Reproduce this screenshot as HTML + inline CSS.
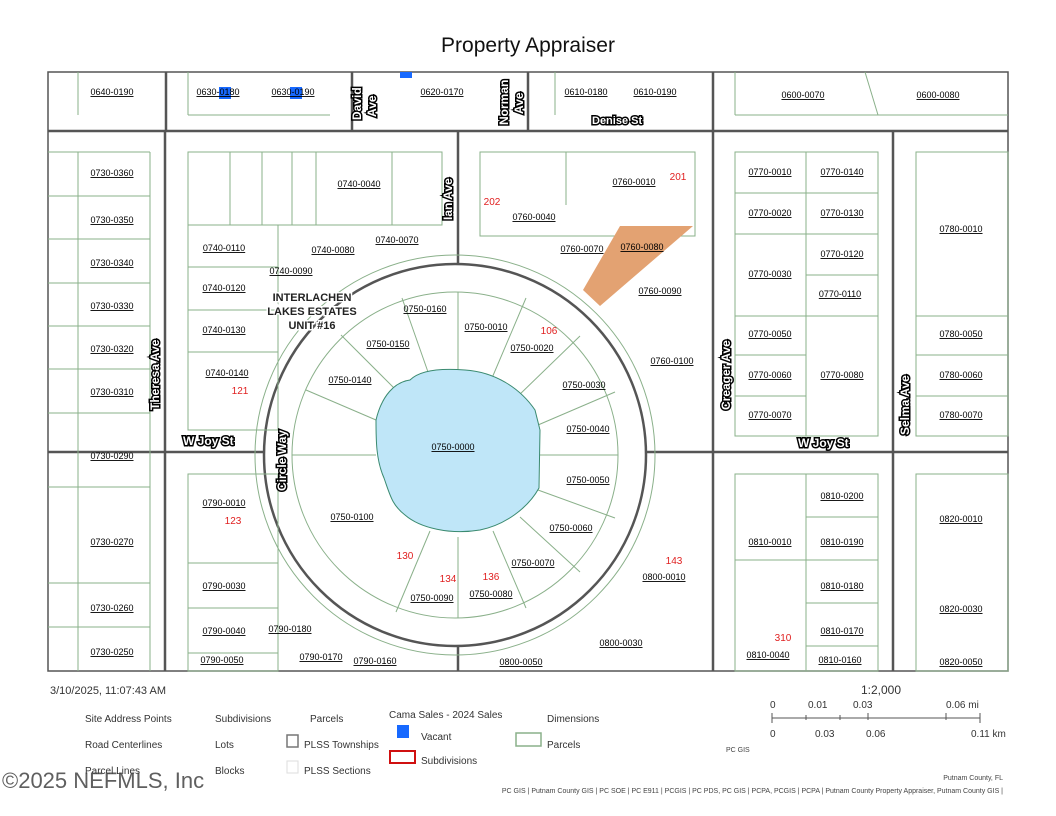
<!DOCTYPE html>
<html><head><meta charset="utf-8"><style>
body{margin:0;background:#fff;width:1056px;height:816px;overflow:hidden;font-family:"Liberation Sans",sans-serif}
svg{position:absolute;left:0;top:0}
.l{font-size:9px;text-decoration:underline;fill:#000;text-anchor:middle}
.r{font-size:10px;fill:#e02020;text-anchor:middle}
.s{font-size:12px;font-weight:bold;fill:#fff;stroke:#000;stroke-width:3;paint-order:stroke;}
.g{stroke:#8ab08a;stroke-width:1;fill:none}
.d{stroke:#555;stroke-width:2.5;fill:none}
.t{font-size:10px;fill:#333}
</style></head><body>
<svg width="1056" height="816">
<text x="528" y="52" font-size="21" text-anchor="middle" fill="#111">Property Appraiser</text>
<rect x="48" y="72" width="960" height="599" fill="#fff" stroke="#555" stroke-width="1.5"/>
<g class="d">
<line x1="48" y1="131" x2="1008" y2="131"/>
<line x1="48" y1="452" x2="264" y2="452"/><line x1="645" y1="452" x2="1008" y2="452"/>
<line x1="165" y1="131" x2="165" y2="671"/><line x1="713" y1="131" x2="713" y2="671"/>
<line x1="893" y1="131" x2="893" y2="671"/>
<line x1="166" y1="72" x2="166" y2="131"/><line x1="352" y1="72" x2="352" y2="131"/>
<line x1="528" y1="72" x2="528" y2="131"/><line x1="713" y1="72" x2="713" y2="131"/>
<line x1="458" y1="131" x2="458" y2="263"/><line x1="458" y1="645" x2="458" y2="671"/>
<circle cx="455" cy="455" r="191"/>
</g>
<g class="g">
<circle cx="455" cy="455" r="163"/><circle cx="455" cy="455" r="200"/>
<rect x="188" y="152" width="254" height="73"/><rect x="480" y="152" width="215" height="84"/>
<rect x="188" y="225" width="90" height="127"/><line x1="188" y1="267" x2="278" y2="267"/><line x1="188" y1="310" x2="278" y2="310"/>
<rect x="188" y="352" width="90" height="78"/>
<line x1="230" y1="152" x2="230" y2="225"/><line x1="262" y1="152" x2="262" y2="225"/><line x1="292" y1="152" x2="292" y2="225"/><line x1="316" y1="152" x2="316" y2="225"/><line x1="392" y1="152" x2="392" y2="225"/>
<line x1="566" y1="152" x2="566" y2="205"/>
<rect x="188" y="474" width="90" height="197"/><line x1="188" y1="563" x2="278" y2="563"/><line x1="188" y1="608" x2="278" y2="608"/><line x1="188" y1="653" x2="278" y2="653"/>
<rect x="735" y="152" width="143" height="284"/><line x1="806" y1="152" x2="806" y2="436"/>
<line x1="735" y1="193" x2="878" y2="193"/><line x1="735" y1="234" x2="878" y2="234"/><line x1="806" y1="275" x2="878" y2="275"/><line x1="735" y1="316" x2="878" y2="316"/><line x1="735" y1="355" x2="806" y2="355"/><line x1="735" y1="396" x2="806" y2="396"/>
<rect x="916" y="152" width="92" height="284"/><line x1="916" y1="316" x2="1008" y2="316"/><line x1="916" y1="355" x2="1008" y2="355"/><line x1="916" y1="396" x2="1008" y2="396"/>
<rect x="735" y="474" width="143" height="197"/><line x1="806" y1="474" x2="806" y2="671"/>
<line x1="806" y1="517" x2="878" y2="517"/><line x1="806" y1="560" x2="878" y2="560"/><line x1="806" y1="603" x2="878" y2="603"/><line x1="806" y1="646" x2="878" y2="646"/><line x1="735" y1="560" x2="806" y2="560"/>
<rect x="916" y="474" width="92" height="197"/>
<line x1="48" y1="152" x2="150" y2="152"/><line x1="78" y1="152" x2="78" y2="671"/>
<line x1="48" y1="196" x2="150" y2="196"/><line x1="48" y1="239" x2="150" y2="239"/><line x1="48" y1="283" x2="150" y2="283"/><line x1="48" y1="326" x2="150" y2="326"/><line x1="48" y1="369" x2="150" y2="369"/><line x1="48" y1="413" x2="150" y2="413"/><line x1="48" y1="487" x2="150" y2="487"/><line x1="48" y1="583" x2="150" y2="583"/><line x1="48" y1="627" x2="150" y2="627"/><line x1="150" y1="152" x2="150" y2="671"/>
<line x1="78" y1="72" x2="78" y2="115"/><line x1="188" y1="72" x2="188" y2="115"/><line x1="188" y1="115" x2="330" y2="115"/>
<line x1="555" y1="72" x2="555" y2="115"/><line x1="735" y1="72" x2="735" y2="115"/><line x1="735" y1="115" x2="1008" y2="115"/><line x1="865" y1="72" x2="878" y2="115"/>
<line x1="458" y1="292" x2="458" y2="370"/><line x1="458" y1="537" x2="458" y2="618"/>
<line x1="292" y1="455" x2="376" y2="455"/><line x1="538" y1="455" x2="618" y2="455"/>
<line x1="341" y1="335" x2="396" y2="390"/><line x1="526" y1="298" x2="492" y2="378"/><line x1="580" y1="336" x2="516" y2="398"/>
<line x1="306" y1="390" x2="376" y2="420"/><line x1="615" y1="392" x2="538" y2="425"/><line x1="615" y1="518" x2="538" y2="490"/>
<line x1="580" y1="572" x2="520" y2="517"/><line x1="526" y1="608" x2="493" y2="531"/><line x1="396" y1="612" x2="430" y2="531"/><line x1="402" y1="298" x2="428" y2="372"/>
</g>
<path d="M376 420 C382 395 395 382 410 380 C420 370 440 368 465 370 C495 372 520 388 535 410 L540 430 L539 488 C528 508 505 525 480 530 C450 535 420 528 405 515 C392 505 390 495 384 478 C376 460 376 440 376 420 Z" fill="#bfe6f8" stroke="#3a8a70" stroke-width="1"/>
<polygon points="583,290 620,226 693,226 600,306" fill="#e3a272"/>
<rect x="219" y="87" width="12" height="12" fill="#1769ff"/><rect x="290" y="87" width="12" height="12" fill="#1769ff"/><rect x="400" y="72" width="12" height="6" fill="#1769ff"/>
<g class="l">
<text x="112" y="95">0640-0190</text><text x="218" y="95">0630-0180</text><text x="293" y="95">0630-0190</text><text x="442" y="95">0620-0170</text><text x="586" y="95">0610-0180</text><text x="655" y="95">0610-0190</text><text x="803" y="98">0600-0070</text><text x="938" y="98">0600-0080</text>
<text x="112" y="176">0730-0360</text><text x="112" y="223">0730-0350</text><text x="112" y="266">0730-0340</text><text x="112" y="309">0730-0330</text><text x="112" y="352">0730-0320</text><text x="112" y="395">0730-0310</text><text x="112" y="459">0730-0290</text><text x="112" y="545">0730-0270</text><text x="112" y="611">0730-0260</text><text x="112" y="655">0730-0250</text>
<text x="359" y="187">0740-0040</text><text x="397" y="243">0740-0070</text><text x="333" y="253">0740-0080</text><text x="291" y="274">0740-0090</text><text x="224" y="251">0740-0110</text><text x="224" y="291">0740-0120</text><text x="224" y="333">0740-0130</text><text x="227" y="376">0740-0140</text>
<text x="634" y="185">0760-0010</text><text x="534" y="220">0760-0040</text><text x="582" y="252">0760-0070</text><text x="642" y="250">0760-0080</text><text x="660" y="294">0760-0090</text><text x="672" y="364">0760-0100</text>
<text x="425" y="312">0750-0160</text><text x="486" y="330">0750-0010</text><text x="532" y="351">0750-0020</text><text x="388" y="347">0750-0150</text><text x="350" y="383">0750-0140</text><text x="584" y="388">0750-0030</text><text x="588" y="432">0750-0040</text><text x="453" y="450">0750-0000</text><text x="588" y="483">0750-0050</text><text x="571" y="531">0750-0060</text><text x="533" y="566">0750-0070</text><text x="491" y="597">0750-0080</text><text x="432" y="601">0750-0090</text><text x="352" y="520">0750-0100</text>
<text x="770" y="175">0770-0010</text><text x="842" y="175">0770-0140</text><text x="770" y="216">0770-0020</text><text x="842" y="216">0770-0130</text><text x="842" y="257">0770-0120</text><text x="770" y="277">0770-0030</text><text x="840" y="297">0770-0110</text><text x="770" y="337">0770-0050</text><text x="842" y="378">0770-0080</text><text x="770" y="378">0770-0060</text><text x="770" y="418">0770-0070</text>
<text x="961" y="232">0780-0010</text><text x="961" y="337">0780-0050</text><text x="961" y="378">0780-0060</text><text x="961" y="418">0780-0070</text>
<text x="224" y="506">0790-0010</text><text x="224" y="589">0790-0030</text><text x="224" y="634">0790-0040</text><text x="222" y="663">0790-0050</text><text x="290" y="632">0790-0180</text><text x="321" y="660">0790-0170</text><text x="375" y="664">0790-0160</text>
<text x="664" y="580">0800-0010</text><text x="621" y="646">0800-0030</text><text x="521" y="665">0800-0050</text>
<text x="770" y="545">0810-0010</text><text x="842" y="499">0810-0200</text><text x="842" y="545">0810-0190</text><text x="842" y="589">0810-0180</text><text x="842" y="634">0810-0170</text><text x="768" y="658">0810-0040</text><text x="840" y="663">0810-0160</text>
<text x="961" y="522">0820-0010</text><text x="961" y="612">0820-0030</text><text x="961" y="665">0820-0050</text>
</g>
<g class="r"><text x="678" y="180">201</text><text x="492" y="205">202</text><text x="549" y="334">106</text><text x="240" y="394">121</text><text x="233" y="524">123</text><text x="405" y="559">130</text><text x="448" y="582">134</text><text x="491" y="580">136</text><text x="674" y="564">143</text><text x="783" y="641">310</text></g>
<g class="s">
<text x="592" y="124" font-size="11">Denise St</text><text x="183" y="445">W Joy St</text><text x="798" y="447">W Joy St</text>
<text transform="translate(361,120) rotate(-90)">David</text><text transform="translate(376,117) rotate(-90)">Ave</text>
<text transform="translate(508,125) rotate(-90)">Norman</text><text transform="translate(523,114) rotate(-90)">Ave</text>
<text transform="translate(452,220) rotate(-90)">Ian Ave</text>
<text transform="translate(159,410) rotate(-90)">Theresa Ave</text>
<text transform="translate(730,410) rotate(-90)">Creager Ave</text>
<text transform="translate(909,435) rotate(-90)">Selma Ave</text>
<text transform="translate(286,491) rotate(-90)">Circle Way</text>
</g>
<g font-size="11" font-weight="bold" fill="#222" text-anchor="middle" stroke="#fff" stroke-width="3" paint-order="stroke"><text x="312" y="301">INTERLACHEN</text><text x="312" y="315">LAKES ESTATES</text><text x="312" y="329">UNIT #16</text></g>
<text x="50" y="694" font-size="11" fill="#333">3/10/2025, 11:07:43 AM</text>
<text x="881" y="694" font-size="12" fill="#333" text-anchor="middle">1:2,000</text>
<g class="t"><text x="85" y="722">Site Address Points</text><text x="215" y="722">Subdivisions</text><text x="310" y="722">Parcels</text><text x="389" y="718">Cama Sales - 2024 Sales</text><text x="547" y="722">Dimensions</text>
<text x="85" y="748">Road Centerlines</text><text x="215" y="748">Lots</text><text x="304" y="748">PLSS Townships</text><text x="421" y="740">Vacant</text><text x="547" y="748">Parcels</text>
<text x="85" y="774">Parcel Lines</text><text x="215" y="774">Blocks</text><text x="304" y="774">PLSS Sections</text><text x="421" y="764">Subdivisions</text>
<text x="770" y="708">0</text><text x="808" y="708">0.01</text><text x="853" y="708">0.03</text><text x="946" y="708">0.06 mi</text>
<text x="770" y="737">0</text><text x="815" y="737">0.03</text><text x="866" y="737">0.06</text><text x="971" y="737">0.11 km</text></g>
<text x="726" y="752" font-size="7" fill="#444">PC GIS</text>
<line x1="772" y1="718" x2="980" y2="718" stroke="#555"/><g stroke="#555"><line x1="772" y1="713" x2="772" y2="723"/><line x1="980" y1="713" x2="980" y2="723"/><line x1="868" y1="713" x2="868" y2="720"/><line x1="946" y1="713" x2="946" y2="720"/><line x1="806" y1="715" x2="806" y2="720"/><line x1="840" y1="715" x2="840" y2="720"/></g>
<rect x="397" y="725" width="12" height="13" fill="#1769ff"/><rect x="390" y="751" width="25" height="12" fill="none" stroke="#d01010" stroke-width="2"/>
<rect x="287" y="735" width="11" height="12" fill="none" stroke="#777" stroke-width="1.5"/><rect x="287" y="761" width="11" height="12" fill="none" stroke="#ddd"/>
<rect x="516" y="733" width="25" height="13" fill="none" stroke="#8ab08a" stroke-width="1.5"/>
<text x="2" y="788" font-size="22" fill="#444" opacity="0.85">©2025 NEFMLS, Inc</text>
<text x="1003" y="780" font-size="7" fill="#444" text-anchor="end">Putnam County, FL</text>
<text x="1003" y="793" font-size="7" fill="#444" text-anchor="end">PC GIS | Putnam County GIS | PC SOE | PC E911 | PCGIS | PC PDS, PC GIS | PCPA, PCGIS | PCPA | Putnam County Property Appraiser, Putnam County GIS |</text>
</svg>
</body></html>
